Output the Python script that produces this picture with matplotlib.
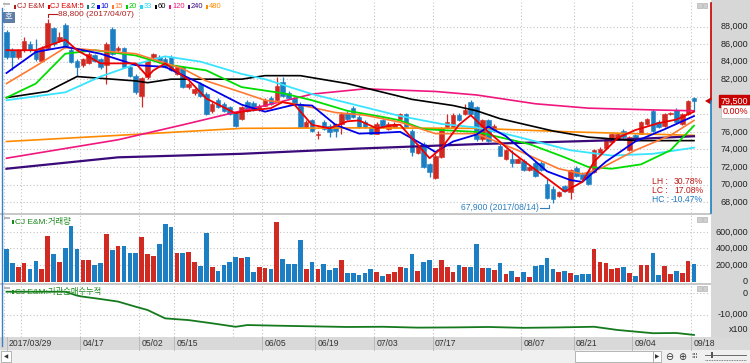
import numpy as np
import matplotlib
matplotlib.use("Agg")
import matplotlib.pyplot as plt
from matplotlib.patches import Rectangle, Polygon
from matplotlib.lines import Line2D

W, H = 750, 363

# daily candles (won)
opens = [87400, 85300, 84500, 85300, 86000, 85300, 84100, 85600, 87800, 86400,
         88200, 85300, 84100, 83600, 83800, 84700, 84300, 83600, 87700, 85300,
         85500, 83400, 82400, 80100, 82200, 84500, 84500, 84300, 84500, 82600,
         83400, 81100, 80400, 81500, 80300, 78400, 79600, 79200, 78800, 78200,
         77500, 79400, 79300, 78600, 79000, 79900, 79600, 81700, 80400, 79800,
         79200, 76600, 77300, 75600, 77100, 76700, 76900, 76900, 78200, 78700,
         77700, 77100, 76500, 75800, 77300, 76300, 76500, 77500, 78000, 76100,
         73600, 74600, 72300, 70800, 73100, 76500, 76600, 77900, 78000, 79400,
         78800, 75200, 77300, 76100, 74400, 72900, 72900, 72500, 72700, 71600,
         72500, 72500, 70100, 69500, 68700, 69800, 69100, 71900, 71200, 71400,
         71400, 73500, 74200, 74800, 75200, 76100, 73900, 75600, 75800, 76900,
         78400, 77100, 76700, 78000, 78500, 76900, 78000, 79900]
highs = [87600, 85500, 85400, 86800, 86300, 86600, 85800, 88800, 88000, 87400,
         88400, 85600, 84300, 84400, 85100, 84900, 84400, 86200, 87900, 85800,
         85700, 83600, 82600, 82300, 84200, 85000, 84800, 84500, 84700, 83600,
         83500, 81700, 81000, 81700, 80500, 79400, 79800, 79400, 79000, 78400,
         79000, 79600, 79500, 79200, 79800, 80100, 82200, 82200, 80600, 80000,
         79400, 77300, 77500, 76100, 77300, 76900, 77000, 78300, 78400, 78900,
         77900, 77300, 76700, 77100, 77500, 77100, 77100, 78200, 78200, 76300,
         74600, 74800, 72500, 73500, 76600, 78000, 78100, 78100, 79200, 79600,
         79000, 77500, 77500, 76900, 74600, 74000, 73900, 73000, 72900, 72100,
         72700, 72700, 70600, 69800, 69300, 70000, 71800, 72100, 71400, 71500,
         74000, 74300, 75300, 75900, 75900, 76300, 75500, 75800, 77200, 77600,
         78600, 77300, 78100, 78300, 78700, 78100, 79600, 80000]
lows = [84300, 83000, 84300, 85100, 85100, 84100, 84000, 85400, 85800, 86200,
        85600, 83800, 82400, 83400, 83700, 84000, 83200, 81500, 84700, 85100,
        83300, 82200, 80300, 78800, 82000, 84300, 83800, 83300, 82900, 82500,
        81000, 80900, 80200, 80000, 77900, 78200, 78700, 78300, 77900, 76600,
        77300, 78300, 78400, 78400, 78900, 79100, 79400, 80000, 79700, 79100,
        76500, 76400, 76000, 75200, 76200, 75400, 75400, 75800, 77400, 77600,
        76400, 76400, 75700, 75700, 76400, 76200, 76400, 77400, 76400, 73300,
        73500, 71900, 70900, 70600, 73000, 76400, 76500, 77200, 77900, 77900,
        75000, 75000, 74900, 76000, 73200, 72800, 72000, 72400, 71500, 71500,
        70900, 71500, 68400, 67900, 68600, 69200, 68400, 70900, 70500, 70000,
        71300, 73400, 74100, 74700, 75100, 75300, 73800, 75100, 75700, 76800,
        76000, 76400, 76600, 77900, 77000, 76800, 77900, 78400]
closes = [84500, 84500, 85300, 86300, 85300, 84300, 85600, 88400, 86000, 86800,
          85800, 83900, 83400, 84300, 84900, 84100, 83400, 86000, 84900, 85600,
          83400, 82400, 80500, 82100, 84100, 84900, 83900, 83400, 83000, 83400,
          81100, 81500, 80900, 80100, 78000, 79200, 78800, 78400, 78000, 76700,
          78800, 78400, 78500, 79000, 79600, 79200, 81200, 80100, 79800, 79200,
          76600, 77100, 76100, 75800, 76300, 76000, 76100, 78000, 77500, 77700,
          76500, 76500, 75800, 76900, 76500, 76900, 76900, 78000, 76500, 73700,
          74400, 72000, 71400, 73300, 76400, 77100, 77900, 77300, 78500, 78000,
          75200, 77300, 75000, 76700, 73300, 73900, 72500, 72900, 71600, 72000,
          71000, 71600, 68500, 68400, 69200, 69300, 71700, 71000, 70600, 70100,
          73900, 74100, 75200, 75800, 75800, 75400, 75400, 75200, 77100, 77500,
          76100, 76500, 78000, 78200, 77100, 78000, 79500, 79500]

# volume (shares, thousands)
volume = [390, 228, 176, 228, 156, 248, 156, 551, 337, 240,
          406, 676, 390, 257, 257, 200, 224, 576, 382, 427,
          427, 350, 350, 536, 337, 313, 455, 697, 661, 350,
          350, 358, 240, 192, 584, 176, 131, 200, 240, 301,
          289, 297, 119, 176, 160, 152, 717, 273, 216, 208,
          499, 147, 232, 156, 208, 143, 160, 257, 99, 99,
          83, 99, 147, 115, 67, 95, 115, 176, 164, 333,
          131, 232, 257, 164, 261, 176, 115, 200, 180, 176,
          451, 160, 160, 135, 228, 91, 131, 50, 115, 58,
          184, 200, 281, 156, 111, 127, 107, 83, 95, 95,
          398, 240, 224, 150, 160, 175, 107, 67, 200, 195,
          349, 75, 190, 91, 127, 107, 252, 208]

# moving averages (candle index, value)
ma5_idx = [0, 5, 10, 12, 16, 22, 24, 25, 27, 31, 34, 39, 40, 45, 47, 49, 52, 55, 58, 60,
           63, 66, 67, 70, 72, 74, 77, 79, 82, 86, 89, 92, 95, 98, 100, 104, 107, 111, 114, 117]
ma5_val = [85300, 85300, 86500, 85300, 83800, 83800, 82300, 83000, 83800, 81900,
           79800, 78100, 78300, 78700, 79400, 79100, 76800, 76400, 77200, 77300,
           76400, 76800, 76800, 74500, 73000, 74100, 76800, 77900, 76000, 73700,
           72200, 70700, 69200, 70300, 72600, 75300, 76200, 77000, 77400, 78300]
ma10_idx = [0, 5, 10, 16, 22, 27, 33, 40, 44, 49, 52, 56, 60, 64, 67, 71, 73, 76, 80, 82,
            85, 88, 92, 96, 98, 102, 107, 112, 117]
ma10_val = [82700, 85100, 85700, 84900, 83600, 83400, 81500, 79100, 78300, 79100,
            79000, 76800, 75800, 75900, 76000, 74500, 73700, 74900, 75700, 76600,
            75500, 73800, 71500, 70500, 70300, 72600, 74900, 76300, 77800]
ma15_idx = [0, 5, 10, 15, 22, 30, 34, 40, 44, 49, 56, 61, 67, 73, 80, 87, 94, 98, 101, 107, 113, 117]
ma15_val = [81500, 83500, 85600, 85300, 84900, 83200, 81800, 80500, 79600, 79200,
            78200, 77900, 77100, 75800, 75800, 73900, 71800, 71200, 71800, 73900,
            75600, 77300]
ma20_idx = [0, 5, 10, 15, 22, 27, 34, 40, 47, 52, 58, 64, 67, 71, 80, 89, 95, 99, 103, 108, 113, 117]
ma20_val = [79900, 81500, 84900, 85300, 84700, 83700, 83000, 81100, 80400, 79600,
            78400, 77700, 77300, 76300, 76000, 74600, 73100, 72000, 71800, 72300,
            73900, 76700]
ma33_idx = [0, 10, 16, 22, 27, 33, 40, 44, 52, 61, 67, 74, 80, 86, 96, 103, 110, 117]
ma33_val = [79600, 80500, 82300, 83700, 84600, 84000, 82600, 82000, 80300, 78800,
            77800, 76900, 76500, 75600, 73900, 73300, 73500, 74200]
ma60_idx = [0, 7, 12, 22, 24, 28, 40, 44, 50, 58, 69, 76, 80, 84, 93, 99, 107, 117]
ma60_val = [79900, 80600, 82300, 81800, 81600, 82000, 82000, 82400, 82400, 81500,
            79700, 79000, 78400, 77500, 76100, 75400, 75000, 75000]
ma120_idx = [0, 19, 30, 40, 44, 52, 61, 73, 80, 90, 99, 110, 117]
ma120_val = [73000, 75100, 76800, 78400, 79000, 80300, 80900, 80600, 80200, 79200,
             78700, 78500, 78400]
ma240_idx = [0, 19, 40, 60, 80, 101, 117]
ma240_val = [71800, 73100, 73500, 74100, 74600, 75000, 75500]
ma480_idx = [0, 19, 40, 60, 80, 96, 117]
ma480_val = [74900, 75600, 76400, 76450, 76400, 76000, 75600]

# institutional net buying, cumulative (x100 shares)
cum_idx = [0, 10, 12, 13, 16, 19, 22, 24, 27, 31, 35, 39, 41, 46, 52, 58, 64, 70, 76, 82,
           88, 94, 100, 104, 110, 114, 117]
cum_val = [600, 600, -1200, -1700, -2800, -4000, -6400, -7900, -11800, -12600,
           -14100, -15700, -14900, -15200, -15500, -15800, -15700, -16100, -16000, -15800,
           -16200, -16000, -15700, -17200, -18700, -18600, -19500]

date_idx = [0, 13, 23, 29, 44, 53, 63, 73, 88, 97, 107, 117]
date_labels = ["2017/03/29", "04/17", "05/02", "05/15", "06/05", "06/19",
               "07/03", "07/17", "08/07", "08/21", "09/04", "09/18"]
grid_idx = [0, 3, 13, 23, 29, 39, 44, 53, 63, 73, 88, 97, 107, 117]

legend_labels = ["CJ E&M", "CJ E&M:5", "2", "10", "15", "20", "33", "60", "120", "240", "480"]
legend_colors = ["#b01c1c", "#e00000", "#0a7a7a", "#0000e6", "#ff7a30", "#00cc00",
                 "#20d8f8", "#000000", "#f0167e", "#3a0a7a", "#ff8a00"]

UP = "#d12a22"
DN = "#1d7fc3"
GRID = "#c4c4c4"
FONT = ["Liberation Sans", "DejaVu Sans"]
KR = ["Liberation Sans", "Noto Sans CJK KR", "DejaVu Sans"]
FS = 6.5

X0, DX = 6.5, 5.876
def px2i(x):
    return (x - X0) / DX

def py2p(y):
    return 88000 - (y - 26.5) * 113.9

def add_ax(x0, y0, x1, y1):
    a = fig.add_axes([x0 / W, 1 - y1 / H, (x1 - x0) / W, (y1 - y0) / H])
    a.set_xlim(px2i(3), px2i(710))
    for s in a.spines.values():
        s.set_visible(False)
    a.set_xticks([])
    a.set_yticks([])
    return a

def ftext(x, y, s, **kw):
    kw.setdefault("family", FONT)
    kw.setdefault("fontsize", FS)
    return fig.text(x / W, 1 - y / H, s, **kw)

def frect(x0, y0, x1, y1, **kw):
    fig.add_artist(Rectangle((x0 / W, 1 - y1 / H), (x1 - x0) / W, (y1 - y0) / H,
                             transform=fig.transFigure, **kw))

def fline(xs, ys, **kw):
    kw.setdefault("zorder", 5)
    fig.add_artist(Line2D([x / W for x in xs], [1 - y / H for y in ys],
                          transform=fig.transFigure, **kw))

def rlabel(a, v, s, **kw):
    kw.setdefault("color", "#222222")
    a.text((748 - 3) / 707, v, s, transform=a.get_yaxis_transform(), ha="right",
           va="center", fontsize=FS, family=FONT, clip_on=False, **kw)

fig = plt.figure(figsize=(W / 100, H / 100), dpi=100)
fig.patch.set_facecolor("white")
renderer = fig.canvas.get_renderer()

n = len(closes)
x = np.arange(n)
o = np.array(opens)
c = np.array(closes)
cols = [UP if c[i] >= o[i] else DN for i in range(n)]
bot = np.minimum(o, c)
hgt = np.maximum(np.abs(c - o), 110)

# right label strip and bottom bands (behind the panels)
frect(711, 0, 750, 337, facecolor="#d7d7d7", edgecolor="none", zorder=-5)
frect(0, 337, 750, 350, facecolor="#d9d9d9", edgecolor="none", zorder=-5)
frect(0, 350, 750, 363, facecolor="#f0f0f0", edgecolor="none", zorder=-5)
frect(0, 213, 711, 215, facecolor="#c8c8c8", edgecolor="none", zorder=-5)
frect(0, 283, 711, 285, facecolor="#c8c8c8", edgecolor="none", zorder=-5)

# ---------------- price panel
ax = add_ax(3, 2, 710, 213)
ax.set_ylim(py2p(213), py2p(2))
for p in range(68000, 90000, 2000):
    ax.axhline(p, color=GRID, lw=0.8, ls=(0, (1, 2)), zorder=0)
for g in grid_idx:
    ax.axvline(g - 0.5, color=GRID, lw=0.8, ls=(0, (1, 2)), zorder=0)
ax.vlines(x, lows, highs, colors=cols, lw=0.9, zorder=2)
ax.bar(x, hgt, bottom=bot, width=0.78, color=cols, edgecolor=cols, lw=0.4, zorder=3)

ma_lines = [
    (ma480_idx, ma480_val, "#ff8a00", 1.2),
    (ma240_idx, ma240_val, "#3a0a7a", 1.6),
    (ma120_idx, ma120_val, "#f0167e", 1.2),
    (ma60_idx, ma60_val, "#000000", 1.2),
    (ma33_idx, ma33_val, "#38e4ff", 1.3),
    (ma20_idx, ma20_val, "#00dd00", 1.3),
    (ma15_idx, ma15_val, "#ff7a30", 1.2),
    (ma10_idx, ma10_val, "#0000e6", 1.3),
    (ma5_idx, ma5_val, "#ee0000", 1.3),
]
for xi, yv, colr, lw in ma_lines:
    ax.plot(xi, yv, color=colr, lw=lw, zorder=4, solid_joinstyle="round")

# labels under the price boxes (80,000 / 78,000) are hidden in the original
for p in range(68000, 90000, 2000):
    if p in (78000, 80000):
        continue
    rlabel(ax, p, f"{p:,}")

# current price marker
last = closes[-1]
rlabel(ax, last, f"{last:,}", color="white", zorder=6,
       bbox=dict(boxstyle="square,pad=0.2", facecolor="#c80000", edgecolor="#c80000"))
ftext(748, 111.5, "0.00%", ha="right", va="center", color="#c80000", zorder=6,
      bbox=dict(boxstyle="square,pad=0.2", facecolor="white", edgecolor="#bbbbbb", lw=0.5))
fig.add_artist(Polygon([[705 / W, 1 - 101 / H], [711 / W, 1 - 97.5 / H], [711 / W, 1 - 104.5 / H]],
                       closed=True, transform=fig.transFigure, facecolor="#c80000",
                       edgecolor="none", zorder=5))
fline([710.5, 710.5], [3, 101], color="#c80000", lw=1.2)
fline([710.5, 710.5], [101, 213], color=DN, lw=1.2)

# high / low notes
hi_i = int(np.argmax(highs))
lo_i = int(np.argmin(lows))
hx = X0 + DX * hi_i
fline([hx, hx, hx + 9], [17, 13.5, 13.5], color="#b01c1c", lw=0.8)
ftext(hx + 10, 15, f"{max(highs):,} (2017/04/07)", ha="left", va="center",
      color="#b01c1c", fontsize=6.0)
lx = X0 + DX * lo_i
fline([lx - 13, lx - 4, lx - 4], [208, 208, 204.5], color="#2a7fc0", lw=0.8)
ftext(lx - 14, 208, f"{min(lows):,} (2017/08/14)", ha="right", va="center",
      color="#2a7fc0", fontsize=6.2)

lh = (max(highs) - min(lows)) / min(lows) * 100
lc = (last - min(lows)) / min(lows) * 100
hc = (last - max(highs)) / max(highs) * 100
for yy, lab, val, colr in [(182, "LH :", lh, "#c01818"), (190.5, "LC :", lc, "#c01818"),
                           (199, "HC :", hc, "#1e78c8")]:
    ftext(652, yy, lab, ha="left", va="center", color=colr, fontsize=6.2)
    ftext(703, yy, f"{val:.2f}%", ha="right", va="center", color=colr, fontsize=6.2)

# legend row, laid out left to right
lxp = 14.0
for lab, colr in zip(legend_labels, legend_colors):
    frect(lxp, 4.5, lxp + 2.2, 8.5, facecolor=colr, edgecolor="none")
    t = ftext(lxp + 3.0, 6.8, lab, ha="left", va="center", color=colr, fontsize=5.4)
    wpx = t.get_window_extent(renderer=renderer).width
    lxp = lxp + 3.0 + wpx + 3.0
frect(3, 2.5, 10, 4.5, facecolor="#b8b8b8", edgecolor="none")
frect(3, 12.5, 14, 21.5, facecolor="#5d7fa8", edgecolor="#3d5f88", lw=0.5)
ftext(8.5, 17, "호", ha="center", va="center", fontsize=6, color="white", family=KR)

# ---------------- volume panel
ax2 = add_ax(3, 215, 710, 283)
ax2.set_ylim(-(283 - 281.5) * 12121, (281.5 - 215) * 12121)
for v in [200000, 400000, 600000]:
    ax2.axhline(v, color=GRID, lw=0.8, ls=(0, (1, 2)), zorder=0)
for g in grid_idx:
    ax2.axvline(g - 0.5, color=GRID, lw=0.8, ls=(0, (1, 2)), zorder=0)
ax2.bar(x, np.array(volume) * 1000, width=0.8, color=cols, zorder=3)
for v in [600000, 400000, 200000, 0]:
    rlabel(ax2, v, f"{v:,}")
frect(4, 217, 10, 219.5, facecolor="#b8b8b8", edgecolor="none")
frect(12, 220, 14, 224, facecolor="#1c8a1c", edgecolor="none")
ftext(15, 222, "CJ E&M:거래량", ha="left", va="center", color="#1c8a1c", family=KR, fontsize=6)

# ---------------- cumulative panel
ax3 = add_ax(3, 285, 710, 337)
ax3.set_ylim(-(337 - 293) * 465, (293 - 285) * 465)
for v in [0, -10000]:
    ax3.axhline(v, color=GRID, lw=0.8, ls=(0, (1, 2)), zorder=0)
for g in grid_idx:
    ax3.axvline(g - 0.5, color=GRID, lw=0.8, ls=(0, (1, 2)), zorder=0)
ax3.plot(cum_idx, cum_val, color="#157a1e", lw=1.3, zorder=3)
for v in [0, -10000]:
    rlabel(ax3, v, f"{v:,}")
ftext(748, 330, "x100", ha="right", va="center", color="#222222")
frect(4, 286.5, 10, 289, facecolor="#b8b8b8", edgecolor="none")
frect(12, 290, 14, 294, facecolor="#1c8a1c", edgecolor="none")
ftext(15, 292, "CJ E&M:기관순매수누적", ha="left", va="center", color="#1c8a1c", family=KR, fontsize=6)

# panel buttons
for yb in [3, 217, 286]:
    frect(697, yb, 701.5, yb + 5, facecolor="#cfcfcf", edgecolor="#a8a8a8", lw=0.4)
    frect(702.5, yb, 707, yb + 5, facecolor="#cfcfcf", edgecolor="#a8a8a8", lw=0.4)

# ---------------- date band
for di, lab in zip(date_idx, date_labels):
    tx = max(X0 + DX * (di - 0.5), 6.5)
    fline([tx, tx], [337, 350], color="#b4b4b4", lw=0.6)
    ftext(tx + 2.5, 344, lab, ha="left", va="center", color="#333333", fontsize=6.2)

# left frame line
fline([1.5, 1.5], [8, 346], color="#3a7fc8", lw=1.0)

# scroll bar
frect(1, 351, 11, 362, facecolor="white", edgecolor="#9a9a9a", lw=0.5)
ftext(6, 356.5, "◀", ha="center", va="center", fontsize=4, color="#333333", family="DejaVu Sans")
frect(575, 351, 653, 362, facecolor="white", edgecolor="#9a9a9a", lw=0.5)
frect(653, 351, 661, 362, facecolor="white", edgecolor="#9a9a9a", lw=0.5)
ftext(657, 356.5, "▶", ha="center", va="center", fontsize=4, color="#333333", family="DejaVu Sans")
ftext(669, 356.5, "⊖", ha="center", va="center", fontsize=7, color="#333333", family="DejaVu Sans")
ftext(682, 356.5, "⊕", ha="center", va="center", fontsize=7, color="#333333", family="DejaVu Sans")
ftext(695, 356.5, "⁞⁞⁞", ha="center", va="center", fontsize=5, color="#333333", family="DejaVu Sans")
fline([705, 746], [355, 355], color="#555555", lw=0.6)
frect(711, 352, 713, 358, facecolor="#555555", edgecolor="none")
fline([705, 746], [360, 360], color="#555555", lw=0.6, ls=(0, (1, 1)))

fig.savefig("out.png", dpi=100, facecolor=fig.get_facecolor())
